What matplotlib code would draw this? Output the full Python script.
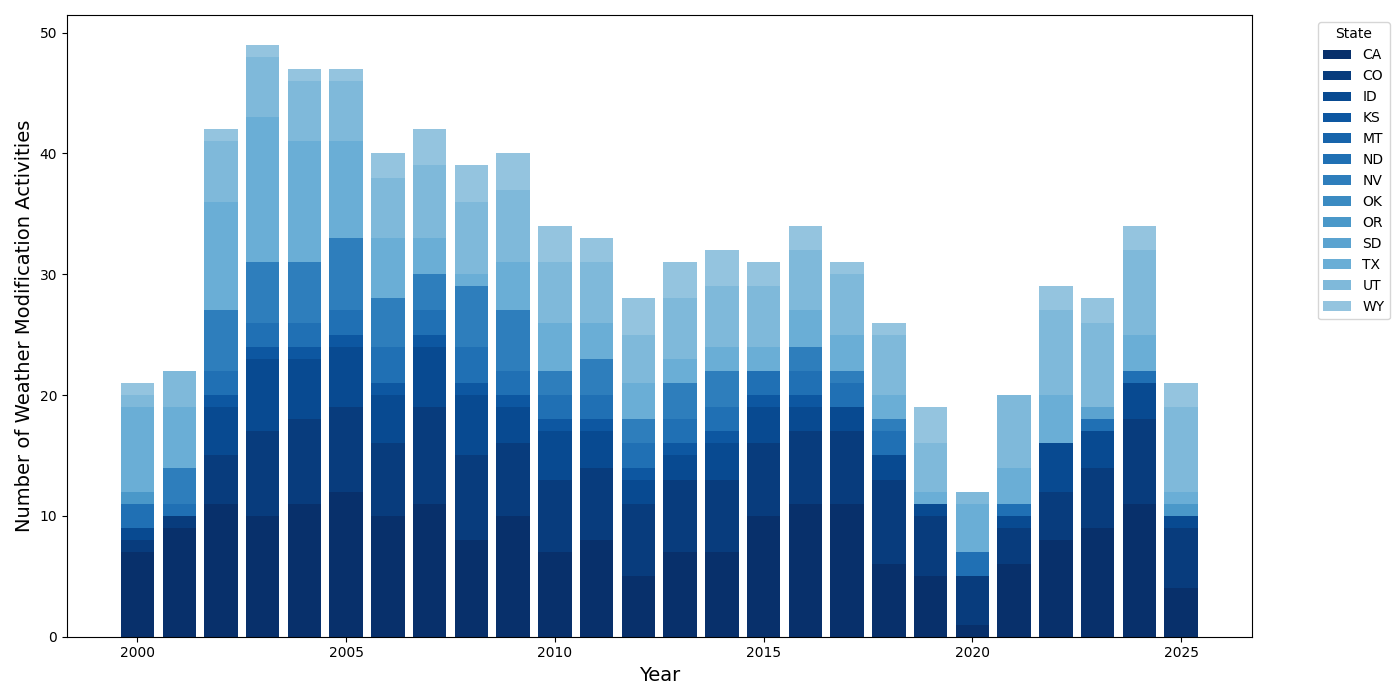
import numpy as np
import matplotlib
matplotlib.use("Agg")
import matplotlib.pyplot as plt

years = list(range(2000, 2026))
states = ["CA", "CO", "ID", "KS", "MT", "ND", "NV", "OK", "OR", "SD", "TX", "UT", "WY"]

# activities per state, one value per year 2000..2025
CA = [7, 9, 11, 10, 11, 12, 10, 11, 8, 10, 7, 8, 5, 7, 7, 10, 11, 11, 6, 5, 1, 6, 8, 9, 11, 4]
CO = [1, 1, 4, 7, 7, 7, 6, 8, 7, 6, 6, 6, 6, 6, 6, 6, 6, 6, 7, 5, 4, 3, 4, 5, 7, 5]
ID = [1, 0, 4, 6, 5, 5, 4, 5, 5, 3, 4, 3, 2, 2, 3, 3, 2, 2, 2, 1, 0, 1, 4, 3, 3, 1]
KS = [0, 0, 1, 1, 1, 1, 1, 1, 1, 1, 1, 1, 1, 1, 1, 1, 1, 0, 0, 0, 0, 0, 0, 0, 0, 0]
MT = [0] * 26
ND = [2, 1, 2, 2, 2, 2, 3, 2, 3, 2, 2, 2, 2, 2, 2, 2, 2, 2, 2, 0, 2, 1, 0, 1, 1, 0]
NV = [0, 3, 5, 5, 5, 6, 4, 3, 5, 5, 2, 3, 2, 3, 3, 0, 2, 1, 1, 0, 0, 0, 0, 0, 0, 0]
OK = [0] * 26
OR = [1, 0, 0, 0, 0, 0, 0, 0, 0, 0, 0, 0, 0, 0, 0, 0, 0, 0, 0, 0, 0, 0, 0, 0, 0, 1]
SD = [0, 0, 0, 0, 0, 0, 0, 0, 0, 0, 0, 0, 0, 0, 0, 0, 0, 0, 0, 0, 0, 0, 0, 1, 0, 0]
TX = [7, 5, 9, 12, 10, 8, 5, 3, 1, 4, 4, 3, 3, 2, 2, 2, 3, 3, 2, 1, 4, 3, 4, 0, 3, 1]
UT = [1, 3, 5, 5, 5, 5, 5, 6, 6, 6, 5, 5, 4, 5, 5, 5, 5, 5, 5, 4, 1, 6, 7, 7, 7, 7]
WY = [1, 0, 1, 1, 1, 1, 2, 3, 3, 3, 3, 2, 3, 3, 3, 2, 2, 1, 1, 3, 0, 0, 2, 2, 2, 2]

counts = [CA, CO, ID, KS, MT, ND, NV, OK, OR, SD, TX, UT, WY]
colors = plt.cm.Blues(np.linspace(1.0, 0.4, len(states)))

fig, ax = plt.subplots(figsize=(14, 7), dpi=100)

bottom = np.zeros(len(years))
for state, values, color in zip(states, counts, colors):
    ax.bar(years, values, bottom=bottom, color=color, label=state, width=0.8)
    bottom += np.array(values)

ax.set_xlabel("Year", fontsize=14)
ax.set_ylabel("Number of Weather Modification Activities", fontsize=14)
ax.legend(title="State", bbox_to_anchor=(1.05, 1), loc="upper left")

plt.tight_layout()
plt.savefig("out.png")
